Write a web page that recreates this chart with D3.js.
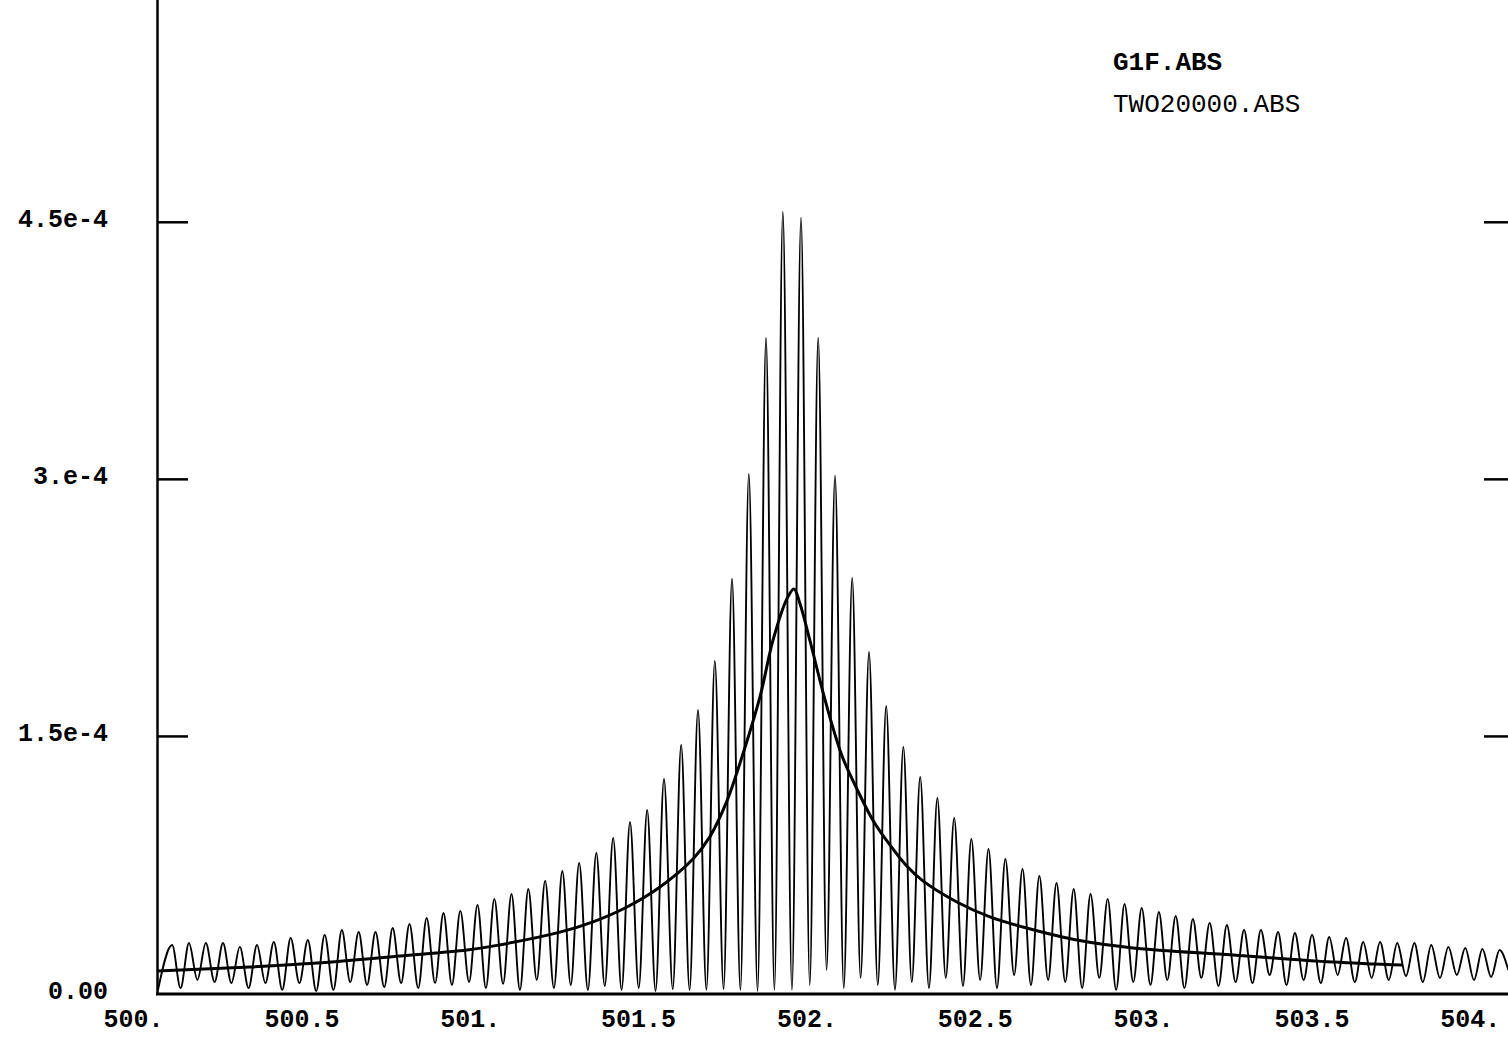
<!DOCTYPE html>
<html>
<head>
<meta charset="utf-8">
<script src="https://cdn.jsdelivr.net/npm/d3@7"></script>
<style>
    html, body { margin: 0; padding: 0; background: #fff; }
    svg { display: block; }
    .lbl { font-family: "Liberation Mono", "DejaVu Sans Mono", monospace; font-weight: bold; font-size: 25px; fill: #000; }
</style>
</head>
<body>
<svg class="chart"></svg>
<script>
/* Data */

var xTicks = [500, 500.5, 501, 501.5, 502, 502.5, 503, 503.5, 504];
var xTickLabels = ['500.', '500.5', '501.', '501.5', '502.', '502.5', '503.', '503.5', '504.'];
var yTicks = [0, 1.5e-4, 3e-4, 4.5e-4];
var yTickLabels = ['0.00', '1.5e-4', '3.e-4', '4.5e-4'];
var seriesNames = ['G1F.ABS', 'TWO20000.ABS'];

/* G1F.ABS : fringe tops */
var peakX = [
    500.116, 500.166, 500.216, 500.267, 500.317, 500.368, 500.418, 500.468, 500.519, 500.569,
    500.620, 500.670, 500.720, 500.771, 500.821, 500.872, 500.922, 500.972, 501.023, 501.073,
    501.124, 501.174, 501.224, 501.275, 501.325, 501.376, 501.426, 501.476, 501.527, 501.577,
    501.628, 501.678, 501.728, 501.779, 501.829, 501.880, 501.930,
    501.984, 502.035, 502.085, 502.136, 502.186, 502.237, 502.288, 502.338, 502.389, 502.439,
    502.490, 502.541, 502.591, 502.642, 502.692, 502.743, 502.794, 502.844, 502.895, 502.945,
    502.996, 503.047, 503.097, 503.148, 503.198, 503.249, 503.300, 503.350, 503.401, 503.451,
    503.502, 503.553, 503.603, 503.654, 503.704, 503.755, 503.806, 503.856, 503.907, 503.957,
    504.008, 504.059
];
var peakY = [
    2.80e-5, 2.92e-5, 2.92e-5, 2.92e-5, 2.69e-5, 2.80e-5, 2.98e-5, 3.21e-5, 3.09e-5, 3.39e-5,
    3.68e-5, 3.56e-5, 3.56e-5, 3.79e-5, 4.03e-5, 4.38e-5, 4.67e-5, 4.79e-5, 5.14e-5, 5.49e-5,
    5.78e-5, 6.07e-5, 6.54e-5, 7.12e-5, 7.59e-5, 8.17e-5, 9.05e-5, 9.98e-5, 1.068e-4, 1.249e-4,
    1.448e-4, 1.652e-4, 1.938e-4, 2.417e-4, 3.029e-4, 3.823e-4, 4.559e-4,
    4.524e-4, 3.823e-4, 3.018e-4, 2.422e-4, 1.990e-4, 1.675e-4, 1.436e-4, 1.261e-4, 1.138e-4, 1.021e-4,
    8.99e-5, 8.41e-5, 7.82e-5, 7.24e-5, 6.83e-5, 6.42e-5, 6.07e-5, 5.78e-5, 5.49e-5, 5.19e-5,
    4.96e-5, 4.73e-5, 4.49e-5, 4.32e-5, 4.09e-5, 3.97e-5, 3.68e-5, 3.68e-5, 3.56e-5, 3.50e-5,
    3.39e-5, 3.27e-5, 3.21e-5, 2.98e-5, 2.98e-5, 2.92e-5, 2.92e-5, 2.80e-5, 2.69e-5, 2.63e-5,
    2.57e-5, 2.51e-5
];

/* G1F.ABS : fringe bottoms */
var dipX = [
    500.074,
    500.141, 500.191, 500.242, 500.292, 500.343, 500.393, 500.443, 500.494, 500.544, 500.595,
    500.645, 500.695, 500.746, 500.796, 500.847, 500.897, 500.947, 500.998, 501.048, 501.099,
    501.149, 501.199, 501.250, 501.300, 501.351, 501.401, 501.451, 501.502, 501.552, 501.603,
    501.653, 501.703, 501.754, 501.804, 501.855, 501.905,
    501.957,
    502.010, 502.060, 502.111, 502.161, 502.212, 502.263, 502.313, 502.364, 502.414, 502.465,
    502.516, 502.566, 502.617, 502.667, 502.718, 502.769, 502.819, 502.870, 502.920, 502.971,
    503.022, 503.072, 503.123, 503.173, 503.224, 503.275, 503.325, 503.376, 503.426, 503.477,
    503.528, 503.578, 503.629, 503.679, 503.730, 503.781, 503.831, 503.882, 503.932, 503.983,
    504.034,
    504.085
];
var dipY = [
    1.8e-6,
    2.9e-6, 7.6e-6, 6.4e-6, 5.8e-6, 2.9e-6, 5.8e-6, 1.8e-6, 5.8e-6, 1.2e-6, 1.8e-6,
    6.4e-6, 4.7e-6, 3.5e-6, 5.8e-6, 2.9e-6, 5.8e-6, 4.7e-6, 6.4e-6, 2.9e-6, 5.3e-6,
    1.8e-6, 7.6e-6, 2.9e-6, 4.7e-6, 1.8e-6, 4.1e-6, 1.8e-6, 2.9e-6, 1.2e-6, 2.3e-6,
    1.8e-6, 1.8e-6, 2.3e-6, 1.8e-6, 1.2e-6, 1.8e-6,
    1.8e-6,
    4.7e-6, 1.34e-5, 2.9e-6, 8.8e-6, 4.7e-6, 1.8e-6, 6.4e-6, 2.9e-6, 8.8e-6, 4.1e-6,
    7.6e-6, 2.9e-6, 1.05e-5, 4.7e-6, 7.6e-6, 6.4e-6, 2.9e-6, 8.8e-6, 1.8e-6, 6.4e-6,
    4.7e-6, 7.6e-6, 2.9e-6, 8.8e-6, 4.1e-6, 6.4e-6, 5.8e-6, 1.05e-5, 4.7e-6, 7.6e-6,
    5.8e-6, 1.05e-5, 6.4e-6, 8.8e-6, 7.6e-6, 9.9e-6, 6.4e-6, 8.8e-6, 1.05e-5, 7.6e-6,
    9.3e-6,
    1.34e-5
];

/* TWO20000.ABS : smooth line */
var smoothX = [
    500.071, 500.347, 500.546, 500.793, 500.992, 501.081, 501.268, 501.366, 501.467, 501.565,
    501.663, 501.713, 501.764, 501.803, 501.862, 501.901, 501.942, 501.963, 501.981, 502.010,
    502.049, 502.079, 502.108, 502.150, 502.197, 502.248, 502.298, 502.346, 502.447, 502.545,
    502.643, 502.803, 502.970, 503.267, 503.563, 503.771
];
var smoothY = [
    1.28e-5, 1.52e-5, 1.75e-5, 2.16e-5, 2.51e-5, 2.78e-5, 3.55e-5, 4.15e-5, 5.02e-5, 6.19e-5,
    7.82e-5, 9.11e-5, 1.121e-4, 1.343e-4, 1.728e-4, 2.060e-4, 2.300e-4, 2.358e-4, 2.271e-4, 2.060e-4,
    1.757e-4, 1.547e-4, 1.372e-4, 1.191e-4, 1.010e-4, 8.64e-5, 7.41e-5, 6.54e-5, 5.31e-5, 4.44e-5,
    3.85e-5, 3.09e-5, 2.63e-5, 2.22e-5, 1.81e-5, 1.63e-5
];

(function () {
    'use strict';

    /* Setup SVG */

    var width = 1508,
        height = 1038,
        left = 157,
        right = 1508,
        base = 993;

    var svg = d3.select('.chart')
        .attr('width', width)
        .attr('height', height)
        .attr('viewBox', [0, 0, width, height]);

    var x = d3.scaleLinear().domain([500.071, 504.09]).range([left, 1510]),
        y = d3.scaleLinear().domain([0, 5.8e-4]).range([base, -1]);

    svg.append('clipPath').attr('id', 'plot')
        .append('rect')
        .attr('x', left).attr('y', 0)
        .attr('width', right - left).attr('height', base);

    /* Series */

    var comb = [];
    dipX.forEach(function (d, i) {
        comb.push([d, dipY[i]]);
        if (i < peakX.length) comb.push([peakX[i], peakY[i]]);
    });

    var smooth = smoothX.map(function (d, i) { return [d, smoothY[i]]; });

    var line = d3.line()
        .x(function (d) { return x(d[0]); })
        .y(function (d) { return y(d[1]); })
        .curve(d3.curveMonotoneX);

    var plot = svg.append('g').attr('clip-path', 'url(#plot)');

    plot.append('path')
        .datum(comb)
        .attr('d', line)
        .attr('fill', 'none')
        .attr('stroke', '#000')
        .attr('stroke-width', 1.9)
        .attr('stroke-linejoin', 'round');

    plot.append('path')
        .datum(smooth)
        .attr('d', line.curve(d3.curveCatmullRom.alpha(0.5)))
        .attr('fill', 'none')
        .attr('stroke', '#000')
        .attr('stroke-width', 3)
        .attr('stroke-linejoin', 'round');

    /* Axes */

    var yAxis = d3.axisLeft(y)
        .tickValues(yTicks)
        .tickSize(-31)
        .tickSizeOuter(0)
        .tickPadding(49)
        .tickFormat(function (d, i) { return yTickLabels[i]; });

    var gy = svg.append('g')
        .attr('transform', 'translate(' + left + ',0)')
        .call(yAxis);
    gy.select('.domain').attr('stroke-width', 2.5);
    gy.selectAll('.tick line').attr('stroke-width', 2.5);
    gy.selectAll('.tick text').attr('class', 'lbl').attr('dy', '0.2em');
    gy.selectAll('.tick').filter(function (d) { return d === 0; }).select('line').remove();

    var yRight = d3.axisRight(y)
        .tickValues(yTicks.slice(1))
        .tickSize(-31)
        .tickSizeOuter(0)
        .tickFormat('');

    var gr = svg.append('g')
        .attr('transform', 'translate(1515,0)')
        .call(yRight);
    gr.select('.domain').remove();
    gr.selectAll('.tick line').attr('stroke-width', 2.5);

    var xAxis = d3.axisBottom(x)
        .tickValues(xTicks)
        .tickSize(0)
        .tickPadding(15)
        .tickFormat(function (d, i) { return xTickLabels[i]; });

    var gx = svg.append('g')
        .attr('transform', 'translate(0,' + (base + 1) + ')')
        .call(xAxis);
    gx.select('.domain').remove();
    gx.selectAll('.tick text').attr('class', 'lbl');
    // last label sits against the right edge
    gx.selectAll('.tick text').filter(function (d) { return d === 504; }).attr('dx', -10);

    svg.append('line')
        .attr('x1', left - 1).attr('x2', width)
        .attr('y1', base + 1).attr('y2', base + 1)
        .attr('stroke', '#000')
        .attr('stroke-width', 3);

    /* Legend */

    svg.selectAll('.legend')
        .data(seriesNames)
        .enter().append('text')
        .attr('class', 'legend')
        .attr('x', 1113)
        .attr('y', function (d, i) { return 70 + i * 42; })
        .style('font-family', '"Liberation Mono", monospace')
        .style('font-size', '26px')
        .style('font-weight', function (d, i) { return i === 0 ? 'bold' : 'normal'; })
        .text(function (d) { return d; });

})();
</script>
</body>
</html>
